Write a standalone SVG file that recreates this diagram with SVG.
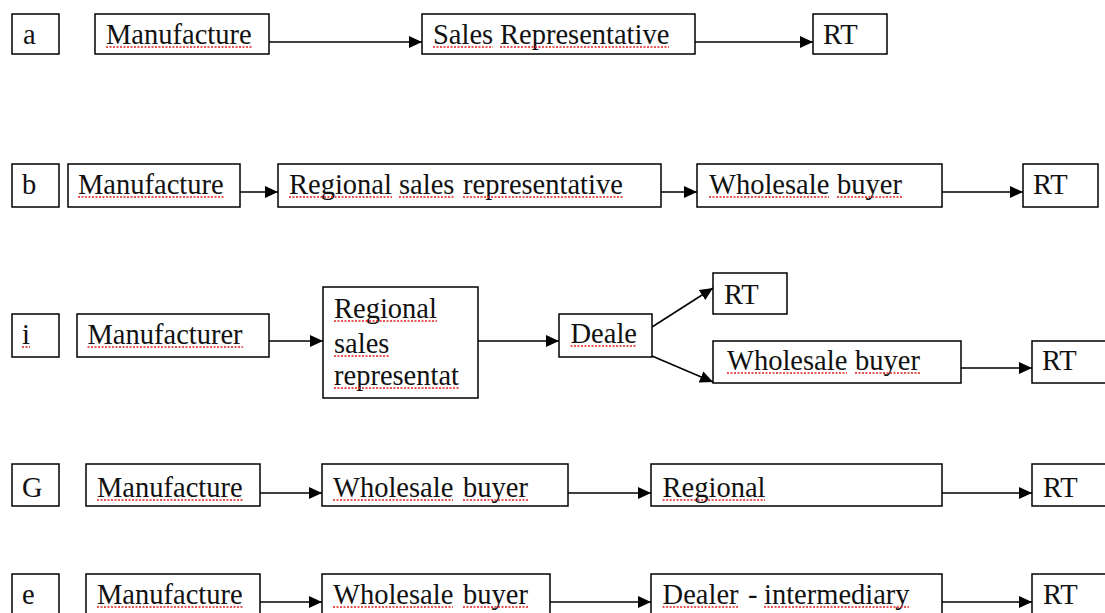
<svg xmlns="http://www.w3.org/2000/svg" width="1105" height="613" viewBox="0 0 1105 613">
<style>
.box{fill:#fff;stroke:#000;stroke-width:1.5}
.t{font-family:"Liberation Serif","Times New Roman",serif;font-size:28.5px;fill:#111}
.sp{stroke:#e41f1f;stroke-width:1.5;stroke-dasharray:2 1.5;fill:none}
.c{stroke:#000;stroke-width:1.5;fill:none;marker-end:url(#ah)}
</style>
<defs>
<marker id="ah" markerUnits="userSpaceOnUse" markerWidth="13" markerHeight="12" refX="13" refY="6" orient="auto">
<path d="M0,0 L13,6 L0,12 z" fill="#000"/>
</marker>
</defs>
<rect width="1105" height="613" fill="#fff"/>
<g id="connectors">
<line class="c" x1="269" y1="42" x2="422" y2="42"/>
<line class="c" x1="695" y1="42" x2="813" y2="42"/>
<line class="c" x1="240" y1="192" x2="278" y2="192"/>
<line class="c" x1="661" y1="192" x2="697" y2="192"/>
<line class="c" x1="942" y1="192" x2="1023" y2="192"/>
<line class="c" x1="269" y1="341" x2="323" y2="341"/>
<line class="c" x1="478" y1="341" x2="559" y2="341"/>
<line class="c" x1="652" y1="327" x2="713" y2="288"/>
<line class="c" x1="652" y1="356" x2="713" y2="382"/>
<line class="c" x1="961" y1="368" x2="1032" y2="368"/>
<line class="c" x1="260" y1="493" x2="322" y2="493"/>
<line class="c" x1="568" y1="493" x2="651" y2="493"/>
<line class="c" x1="942" y1="493" x2="1032" y2="493"/>
<line class="c" x1="260" y1="602" x2="322" y2="602"/>
<line class="c" x1="550" y1="602" x2="651" y2="602"/>
<line class="c" x1="942" y1="602" x2="1032" y2="602"/>
</g>
<!-- Row a -->
<g id="a-label"><rect class="box" x="12" y="14" width="47" height="40"/><text class="t" x="23" y="44">a</text></g>
<g id="a-manufacture"><rect class="box" x="95" y="14" width="174" height="40"/><text class="t" x="106" y="44">Manufacture</text><line class="sp" x1="106" y1="47" x2="252" y2="47"/></g>
<g id="a-sales"><rect class="box" x="422" y="14" width="273" height="40"/><text class="t" x="433" y="44">Sales</text><text class="t" x="500" y="44">Representative</text><line class="sp" x1="433" y1="47" x2="493" y2="47"/><line class="sp" x1="500" y1="47" x2="669" y2="47"/></g>
<g id="a-rt"><rect class="box" x="813" y="14" width="74" height="40"/><text class="t" x="823" y="44">RT</text></g>
<!-- Row b -->
<g id="b-label"><rect class="box" x="12" y="164" width="47" height="43"/><text class="t" x="22" y="194">b</text></g>
<g id="b-manufacture"><rect class="box" x="68" y="164" width="172" height="43"/><text class="t" x="78" y="194">Manufacture</text><line class="sp" x1="78" y1="197" x2="224" y2="197"/></g>
<g id="b-regional"><rect class="box" x="278" y="164" width="383" height="43"/><text class="t" x="289" y="194">Regional</text><text class="t" x="399" y="194">sales</text><text class="t" x="463" y="194">representative</text><line class="sp" x1="289" y1="197" x2="392" y2="197"/><line class="sp" x1="399" y1="197" x2="454" y2="197"/><line class="sp" x1="463" y1="197" x2="623" y2="197"/></g>
<g id="b-wholesale"><rect class="box" x="697" y="164" width="245" height="43"/><text class="t" x="709" y="194">Wholesale</text><text class="t" x="837" y="194">buyer</text><line class="sp" x1="709" y1="197" x2="829" y2="197"/><line class="sp" x1="837" y1="197" x2="902" y2="197"/></g>
<g id="b-rt"><rect class="box" x="1023" y="164" width="75" height="43"/><text class="t" x="1033" y="194">RT</text></g>
<!-- Row i -->
<g id="i-label"><rect class="box" x="12" y="314" width="47" height="43"/><text class="t" x="22" y="344">i</text><line class="sp" x1="22" y1="347" x2="30" y2="347"/></g>
<g id="i-manufacturer"><rect class="box" x="77" y="314" width="192" height="43"/><text class="t" x="87.5" y="344">Manufacturer</text><line class="sp" x1="87.5" y1="347" x2="243" y2="347"/></g>
<g id="i-regional"><rect class="box" x="323" y="287" width="155" height="111"/><text class="t" x="334" y="318">Regional</text><text class="t" x="334" y="353">sales</text><text class="t" x="334" y="385">representat</text><line class="sp" x1="334" y1="321" x2="437" y2="321"/><line class="sp" x1="334" y1="356" x2="389" y2="356"/><line class="sp" x1="334" y1="388" x2="459" y2="388"/></g>
<g id="i-deale"><rect class="box" x="559" y="314" width="93" height="43"/><text class="t" x="570.5" y="343">Deale</text><line class="sp" x1="570.5" y1="346" x2="637" y2="346"/></g>
<g id="i-rt-top"><rect class="box" x="713" y="273" width="74" height="41"/><text class="t" x="724" y="304">RT</text></g>
<g id="i-wholesale"><rect class="box" x="713" y="341" width="248" height="42"/><text class="t" x="727" y="370">Wholesale</text><text class="t" x="855" y="370">buyer</text><line class="sp" x1="727" y1="373" x2="847" y2="373"/><line class="sp" x1="855" y1="373" x2="920" y2="373"/></g>
<g id="i-rt"><rect class="box" x="1032" y="341" width="80" height="42"/><text class="t" x="1042" y="370">RT</text></g>
<!-- Row G -->
<g id="g-label"><rect class="box" x="12" y="464" width="47" height="42"/><text class="t" x="22" y="497">G</text></g>
<g id="g-manufacture"><rect class="box" x="86" y="464" width="174" height="42"/><text class="t" x="97" y="497">Manufacture</text><line class="sp" x1="97" y1="500" x2="243" y2="500"/></g>
<g id="g-wholesale"><rect class="box" x="322" y="464" width="246" height="42"/><text class="t" x="333" y="497">Wholesale</text><text class="t" x="463" y="497">buyer</text><line class="sp" x1="333" y1="500" x2="453" y2="500"/><line class="sp" x1="463" y1="500" x2="528" y2="500"/></g>
<g id="g-regional"><rect class="box" x="651" y="464" width="291" height="42"/><text class="t" x="662.6" y="497">Regional</text><line class="sp" x1="662.6" y1="500" x2="765" y2="500"/></g>
<g id="g-rt"><rect class="box" x="1032" y="464" width="80" height="42"/><text class="t" x="1043" y="497">RT</text></g>
<!-- Row e -->
<g id="e-label"><rect class="box" x="12" y="574" width="47" height="45"/><text class="t" x="22" y="604">e</text></g>
<g id="e-manufacture"><rect class="box" x="86" y="574" width="174" height="45"/><text class="t" x="97" y="604">Manufacture</text><line class="sp" x1="97" y1="607" x2="243" y2="607"/></g>
<g id="e-wholesale"><rect class="box" x="322" y="574" width="228" height="45"/><text class="t" x="333" y="604">Wholesale</text><text class="t" x="463" y="604">buyer</text><line class="sp" x1="333" y1="607" x2="453" y2="607"/><line class="sp" x1="463" y1="607" x2="528" y2="607"/></g>
<g id="e-dealer"><rect class="box" x="651" y="574" width="291" height="45"/><text class="t" x="662.6" y="604">Dealer</text><text class="t" x="748" y="604">-</text><text class="t" x="764" y="604">intermediary</text><line class="sp" x1="662.6" y1="607" x2="738" y2="607"/><line class="sp" x1="764" y1="607" x2="909" y2="607"/></g>
<g id="e-rt"><rect class="box" x="1032" y="574" width="80" height="45"/><text class="t" x="1043" y="604">RT</text></g>
</svg>
